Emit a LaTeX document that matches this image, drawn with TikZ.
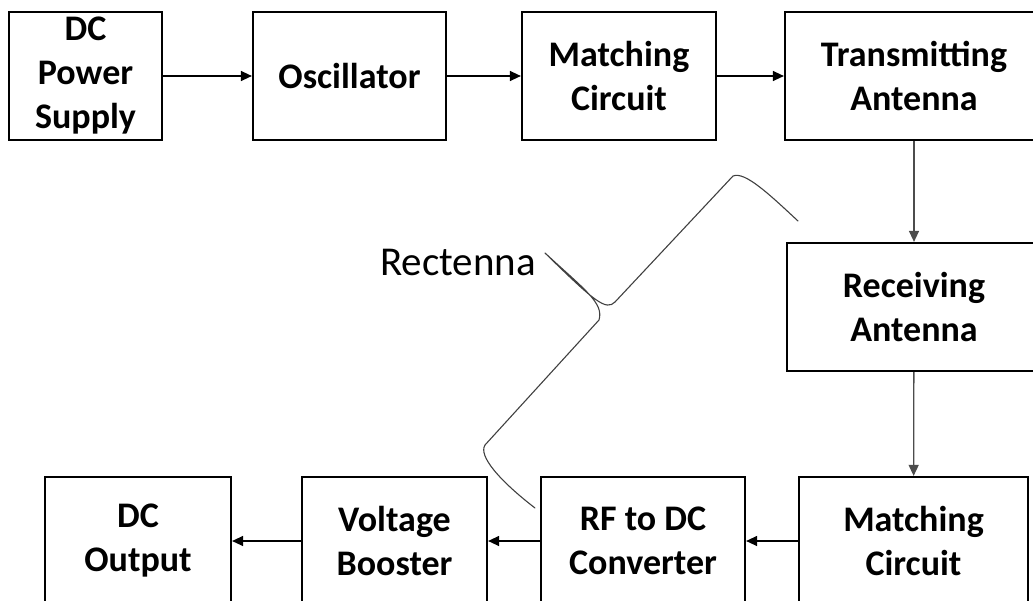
\documentclass[tikz,border=0pt]{standalone}
\usepackage{fontspec}
\setmainfont{Carlito}
\usetikzlibrary{arrows.meta}
\tikzset{
  block/.style={draw,line width=2.2pt,minimum height=128pt,inner sep=0pt,align=center,font=\bfseries\fontsize{36}{44}\selectfont},
  flow/.style={line width=1.3pt,-{Triangle[length=11pt,width=10pt]}},
  brace line/.style={line width=1.1pt,black!75,line cap=round,line join=round},
}

\begin{document}
\begin{tikzpicture}[x=1pt,y=-1pt]
\useasboundingbox (0,0) rectangle (1033,600);
\clip (0,0) rectangle (1033,600);
\node[block,minimum width=153pt] (dcps) at (85.5,76) {DC\\Power\\Supply};
\node[block,minimum width=193pt] (osc) at (349.5,76) {Oscillator};
\node[block,minimum width=194pt] (matchtx) at (619,76) {Matching\\Circuit};
\node[block,minimum width=258pt] (txant) at (914,76) {Transmitting\\Antenna};
\node[block,minimum width=254pt] (rxant) at (914,307) {Receiving\\Antenna};
\node[block,minimum width=229pt] (matchrx) at (913.5,541) {Matching\\Circuit};
\node[block,minimum width=204pt] (rfdc) at (643,541) {RF to DC\\Converter};
\node[block,minimum width=185pt] (boost) at (394.5,541) {Voltage\\Booster};
\node[block,minimum width=186pt] (dcout) at (138,541) {DC\\Output};
\draw[flow] (dcps) -- (osc);
\draw[flow] (osc) -- (matchtx);
\draw[flow] (matchtx) -- (txant);
\draw[flow,black!70] (txant) -- (rxant);
\draw[flow,black!70] (rxant) -- (matchrx);
\draw[flow] (matchrx) -- (rfdc);
\draw[flow] (rfdc) -- (boost);
\draw[flow] (boost) -- (dcout);
\draw[brace line] (798,221) .. controls (770,195) and (745,171) .. (733,176) -- (615,302)
  .. controls (606,311) and (595,302) .. (545,253)
  .. controls (585,290) and (604,303) .. (599,320) -- (485,445)
  .. controls (478,456) and (500,481) .. (535,508);
\node[font=\fontsize{41}{48}\selectfont] (rectenna) at (458,262) {Rectenna};
\end{tikzpicture}
\end{document}
